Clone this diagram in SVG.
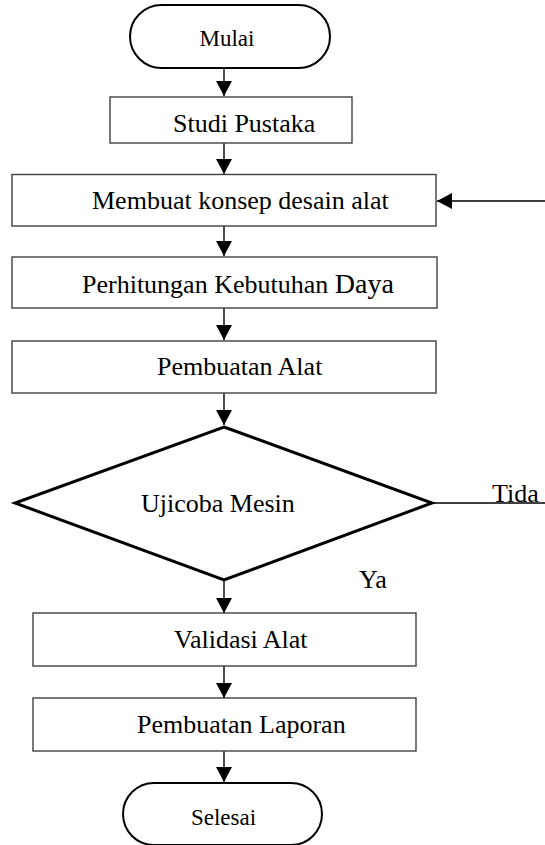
<svg xmlns="http://www.w3.org/2000/svg" width="545" height="845" viewBox="0 0 545 845">
<defs>
<style>
.box{fill:#fff;stroke:#404040;stroke-width:1.4}
.term{fill:#fff;stroke:#000;stroke-width:2}
.dec{fill:#fff;stroke:#000;stroke-width:3;stroke-linejoin:miter}
.t{font-family:"Liberation Serif","Times New Roman",serif;font-size:26px;fill:#000}
.ts{font-family:"Liberation Serif","Times New Roman",serif;font-size:23px;fill:#000;text-anchor:middle}
.ln{stroke:#000;stroke-width:1.4;fill:none}
</style>
<marker id="ah" markerUnits="userSpaceOnUse" markerWidth="16" markerHeight="16" viewBox="0 0 16 16" refX="15" refY="8" orient="auto">
<path d="M0,0 L15,8 L0,16 Z" fill="#000"/>
</marker>
</defs>
<rect width="545" height="845" fill="#fff"/>
<g id="connectors">
<line class="ln" x1="224" y1="68" x2="224" y2="96" marker-end="url(#ah)"/>
<line class="ln" x1="224" y1="143" x2="224" y2="174" marker-end="url(#ah)"/>
<line class="ln" x1="545" y1="201" x2="437" y2="201" marker-end="url(#ah)"/>
<line class="ln" x1="224" y1="226" x2="224" y2="256" marker-end="url(#ah)"/>
<line class="ln" x1="224" y1="308" x2="224" y2="340" marker-end="url(#ah)"/>
<line class="ln" x1="224" y1="393" x2="224" y2="425" marker-end="url(#ah)"/>
<line class="ln" x1="224" y1="580" x2="224" y2="613" marker-end="url(#ah)"/>
<line class="ln" x1="224" y1="666" x2="224" y2="698" marker-end="url(#ah)"/>
<line class="ln" x1="224" y1="751" x2="224" y2="782" marker-end="url(#ah)"/>
<line class="ln" x1="432" y1="503" x2="545" y2="503"/>
<text class="t" x="492" y="502">Tida</text>
<text class="t" x="359" y="588">Ya</text>
</g>
<g id="mulai">
<rect class="term" x="130" y="5" width="200" height="63" rx="31.5" ry="31.5"/>
<text class="ts" x="227" y="46">Mulai</text>
</g>
<g id="studi">
<rect class="box" x="110" y="97" width="242" height="46"/>
<text class="t" x="173" y="132">Studi Pustaka</text>
</g>
<g id="konsep">
<rect class="box" x="12" y="174.5" width="424" height="51.5"/>
<text class="t" x="92" y="209">Membuat konsep desain alat</text>
</g>
<g id="daya">
<rect class="box" x="12" y="257" width="425" height="51"/>
<text class="t" x="82" y="293">Perhitungan Kebutuhan <tspan font-size="28">Daya</tspan></text>
</g>
<g id="pembuatan">
<rect class="box" x="12" y="341" width="424" height="52"/>
<text class="t" x="157" y="375">Pembuatan Alat</text>
</g>
<g id="ujicoba">
<polygon class="dec" points="224,427 432,503 224,580 15,503"/>
<text class="t" x="141" y="512">Ujicoba Mesin</text>
</g>
<g id="validasi">
<rect class="box" x="33" y="613" width="383" height="53"/>
<text class="t" x="174" y="648">Validasi Alat</text>
</g>
<g id="laporan">
<rect class="box" x="33" y="698" width="383" height="53"/>
<text class="t" x="137" y="733">Pembuatan Laporan</text>
</g>
<g id="selesai">
<rect class="term" x="123" y="783" width="199" height="62" rx="31" ry="31"/>
<text class="ts" x="223.5" y="825">Selesai</text>
</g>
</svg>
